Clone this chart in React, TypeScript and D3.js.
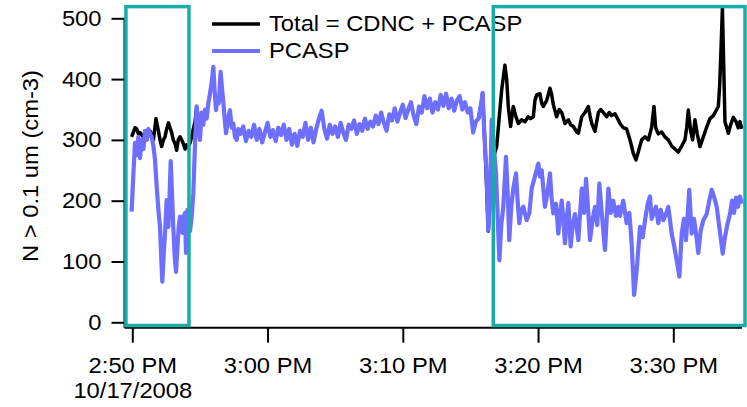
import { useRef, useEffect } from 'react'
import * as d3 from 'd3'

const W = 747
const H = 407

// minutes after 2:50 PM, 10/17/2008
const pcaspMinutes = [
  -0.05, 0.07, 0.2, 0.32, 0.45, 0.57, 0.69, 0.82, 0.94, 1.06, 1.19, 1.31, 1.43, 1.56, 1.68, 1.8, 1.93, 2.05,
  2.15, 2.22, 2.32, 2.42, 2.54, 2.67, 2.76, 2.84, 2.94, 3.03, 3.13, 3.23, 3.33, 3.43, 3.53, 3.63, 3.72, 3.82,
  3.9, 3.97, 4.07, 4.17, 4.27, 4.39, 4.51, 4.64, 4.76, 4.88, 5.0, 5.13, 5.25, 5.38, 5.5, 5.62, 5.75, 5.87,
  5.99, 6.09, 6.19, 6.28, 6.39, 6.53, 6.63, 6.73, 6.83, 6.93, 7.08, 7.22, 7.35, 7.47, 7.59, 7.72, 7.84, 8.0,
  8.2, 8.4, 8.6, 8.8, 9.0, 9.2, 9.4, 9.6, 9.8, 10.0, 10.2, 10.4, 10.6, 10.8, 11.0, 11.2, 11.4, 11.6, 11.8,
  12.0, 12.2, 12.4, 12.6, 12.8, 13.0, 13.2, 13.4, 13.6, 13.8, 14.0, 14.2, 14.4, 14.6, 14.8, 15.0, 15.2, 15.4,
  15.6, 15.8, 16.0, 16.2, 16.4, 16.6, 16.8, 17.0, 17.2, 17.4, 17.6, 17.8, 18.0, 18.2, 18.4, 18.6, 18.8, 19.0,
  19.2, 19.4, 19.6, 19.8, 20.0, 20.2, 20.4, 20.6, 20.8, 21.0, 21.2, 21.4, 21.6, 21.8, 22.0, 22.2, 22.4, 22.6,
  22.8, 23.0, 23.2, 23.4, 23.6, 23.8, 24.0, 24.2, 24.4, 24.6, 24.8, 25.0, 25.2, 25.4, 25.6, 25.8, 25.9,
  26.05, 26.2, 26.32, 26.45, 26.57, 26.69, 26.89, 27.14, 27.28, 27.43, 27.63, 27.78, 27.87, 28.02, 28.17,
  28.37, 28.49, 28.61, 28.76, 28.91, 29.16, 29.36, 29.53, 29.77, 30.02, 30.14, 30.27, 30.51, 30.71, 30.88,
  31.0, 31.13, 31.33, 31.5, 31.62, 31.75, 31.87, 31.99, 32.12, 32.24, 32.41, 32.56, 32.73, 32.98, 33.23,
  33.4, 33.55, 33.72, 33.84, 34.04, 34.21, 34.38, 34.53, 34.71, 34.95, 35.2, 35.37, 35.56, 35.76, 35.93,
  36.06, 36.3, 36.55, 36.75, 36.92, 37.1, 37.3, 37.54, 37.74, 37.91, 38.11, 38.28, 38.4, 38.52, 38.72,
  38.89, 39.07, 39.26, 39.46, 39.63, 39.88, 40.07, 40.25, 40.45, 40.62, 40.79, 40.94, 41.18, 41.36, 41.53,
  41.68, 41.85, 42.02, 42.22, 42.47, 42.66, 42.84, 43.03, 43.21, 43.38, 43.53, 43.65, 43.82, 43.99, 44.19,
  44.34, 44.49, 44.64, 44.78, 44.93, 45.06,
]
const pcaspValues = [
  182, 240, 295, 275, 305, 270, 300, 285, 315, 300, 318, 310, 305, 290, 267, 225, 185, 157,
  100, 67, 110, 147, 201, 157, 210, 265, 210, 157, 110, 83, 120, 157, 174, 150, 147, 175,
  180, 114, 185, 170, 150, 174, 212, 295, 355, 330, 300, 345, 325, 350, 335, 360, 377, 395,
  420, 380, 349, 370, 360, 412, 385, 362, 335, 311, 335, 349, 320, 327, 305, 300, 318, 310,
  322, 298, 315, 305, 325, 300, 318, 296, 312, 328, 305, 316, 298, 320, 308, 325, 300, 318, 292,
  310, 290, 315, 305, 328, 300, 320, 296, 318, 335, 348, 318, 302, 325, 310, 322, 305, 328,
  312, 300, 325, 318, 332, 310, 326, 315, 335, 318, 330, 322, 340, 326, 345, 328, 315, 342,
  332, 352, 330, 345, 358, 336, 350, 362, 340, 326, 355, 345, 372, 352, 368, 345, 362, 350,
  374, 356, 376, 352, 368, 348, 365, 372, 350, 362, 345, 352, 312, 330, 335, 360, 377,
  300, 245, 152, 200, 333, 300, 245, 102, 160, 190, 272, 200, 135, 190, 220,
  245, 200, 163, 185, 190, 168, 180, 220, 240, 261, 240, 250, 190, 215, 245,
  205, 179, 195, 146, 175, 200, 170, 130, 170, 196, 125, 160, 178, 135, 220,
  180, 236, 180, 135, 170, 190, 160, 228, 180, 119, 220, 180, 200, 175, 190,
  175, 200, 163, 180, 130, 45, 87, 157, 140, 168, 195, 207, 170, 178, 190,
  163, 185, 168, 178, 190, 146, 125, 102, 75, 146, 170, 135, 218, 146, 170,
  146, 114, 150, 168, 178, 200, 218, 205, 190, 160, 135, 113, 140, 160, 178,
  200, 180, 205, 190, 207, 195,
]

// Total = CDNC + PCASP, in the two cloud passes (elsewhere it lies under PCASP)
const totalMinutes1 = [
  -0.05, 0.07, 0.2, 0.32, 0.45, 0.57, 0.82, 1.06, 1.31, 1.56, 1.75, 1.93, 2.05, 2.17, 2.3, 2.42, 2.54,
  2.67, 2.79, 2.91, 3.03, 3.16, 3.28, 3.4, 3.53, 3.65, 3.77, 3.9, 4.02, 4.14, 4.27, 4.39, 4.51, 4.64, 4.76,
]
const totalValues1 = [
  305, 312, 320, 318, 310, 312, 305, 300, 315, 300, 335, 315, 300, 289, 300, 305, 318,
  328, 320, 312, 300, 294, 283, 300, 305, 300, 294, 285, 292, 288, 295, 305, 318, 330, 355,
]
const totalMinutes2 = [
  25.6, 25.8, 25.9, 26.15, 26.32, 26.5, 26.69, 26.94, 27.14, 27.31, 27.55, 27.68, 27.8, 27.97, 28.17, 28.34,
  28.54, 28.78, 29.03, 29.27, 29.45, 29.65, 29.77, 29.9, 30.14, 30.27, 30.39, 30.64, 30.88, 31.0, 31.13,
  31.37, 31.57, 31.75, 31.99, 32.24, 32.41, 32.61, 32.86, 32.98, 33.23, 33.47, 33.72, 33.84, 33.97, 34.21,
  34.46, 34.63, 34.83, 35.07, 35.27, 35.44, 35.69, 35.93, 36.06, 36.3, 36.55, 36.8, 37.04, 37.24, 37.41,
  37.66, 37.91, 38.16, 38.4, 38.57, 38.7, 38.89, 39.14, 39.38, 39.63, 39.88, 40.12, 40.37, 40.62, 40.86,
  40.99, 41.11, 41.28, 41.43, 41.6, 41.77, 41.97, 42.22, 42.47, 42.71, 42.96, 43.21, 43.33, 43.43, 43.53,
  43.63, 43.73, 43.82, 43.95, 44.07, 44.24, 44.44, 44.64, 44.8, 44.93, 45.06,
]
const totalValues2 = [
  335, 360, 377, 250, 150, 220, 270, 289, 340, 382, 423, 400, 355, 322, 355, 340,
  327, 333, 330, 338, 335, 338, 365, 374, 376, 360, 355, 365, 385, 375, 358,
  338, 350, 345, 327, 333, 325, 322, 313, 311, 338, 345, 355, 340, 327, 314,
  345, 350, 345, 338, 345, 340, 343, 333, 327, 320, 318, 300, 278, 267, 280,
  300, 305, 300, 321, 355, 320, 310, 313, 305, 300, 290, 285, 280, 290, 300,
  320, 349, 315, 300, 333, 310, 289, 305, 321, 335, 340, 350, 355, 390, 450,
  516, 420, 330, 320, 311, 325, 337, 330, 320, 330, 318,
]

// cloud boxes, minutes after 2:50 PM
const boxStarts = [-0.47, 26.69]
const boxEnds = [4.19, 45.7]

const yTicks = [0, 100, 200, 300, 400, 500]
const legendLabels = ['Total = CDNC + PCASP', 'PCASP']

const BLUE = '#6F6FFF'
const TEAL = '#17ADA8'
const FONT = 'Liberation Sans, Arial, sans-serif'
const FS = 22
const SX = 1.08 // the original lettering is a bit wider than Arial

const t0 = new Date(2008, 9, 17, 14, 50)
const toDate = (m: number) => new Date(t0.getTime() + m * 60000)

// widen text along its own direction, keeping its anchor point in place
function widen(sel: d3.Selection<any, any, any, any>) {
  sel.each(function () {
    const t = d3.select(this)
    const x = +(t.attr('x') || 0)
    t.attr('x', x / SX)
    const prev = t.attr('transform') || ''
    t.attr('transform', `${prev} scale(${SX},1)`)
  })
}

export default function App() {
  const svgRef = useRef<SVGSVGElement>(null)

  useEffect(() => {
    if (!svgRef.current) return
    const svg = d3.select(svgRef.current)
    svg.selectAll('*').remove()

    const x = d3.scaleTime()
      .domain([t0, new Date(2008, 9, 17, 15, 30)])
      .range([132.3, 673.3])
    const y = d3.scaleLinear().domain([0, 500]).range([322.3, 18.3])

    const axisY = 327.7
    const axisX = 124.5

    // Y axis
    const yAxis = d3.axisLeft(y).tickValues(yTicks).tickSize(13).tickPadding(10).tickFormat(d3.format('d'))
    const gy = svg.append('g').attr('transform', `translate(${axisX},0)`).call(yAxis)
    gy.select('.domain').remove()
    gy.append('line').attr('x1', 0).attr('x2', 0).attr('y1', y(500)).attr('y2', axisY).attr('stroke', '#000').attr('stroke-width', 2)
    gy.selectAll('.tick line').attr('stroke', '#000').attr('stroke-width', 2)
    gy.selectAll('.tick text').attr('fill', '#000').attr('font-size', FS).attr('font-family', FONT)
    widen(gy.selectAll('.tick text'))

    // X axis
    const xAxis = d3.axisBottom(x)
      .ticks(d3.timeMinute.every(10))
      .tickSize(15)
      .tickPadding(15)
      .tickFormat((d) => d3.timeFormat('%-I:%M %p')(d as Date))
    const gx = svg.append('g').attr('transform', `translate(0,${axisY})`).call(xAxis)
    gx.select('.domain').remove()
    gx.append('line').attr('x1', axisX).attr('x2', 742).attr('y1', 0).attr('y2', 0).attr('stroke', '#000').attr('stroke-width', 2)
    gx.selectAll('.tick line').attr('stroke', '#000').attr('stroke-width', 2)
    gx.selectAll('.tick text').attr('fill', '#000').attr('font-size', FS).attr('font-family', FONT)
    gx.selectAll<SVGGElement, Date>('.tick')
      .filter((d) => d.getTime() === t0.getTime())
      .append('text')
      .attr('y', 30 + 25)
      .attr('dy', '0.71em')
      .attr('text-anchor', 'middle')
      .attr('fill', '#000')
      .attr('font-size', FS)
      .attr('font-family', FONT)
      .text(d3.timeFormat('%m/%d/%Y')(t0))
    widen(gx.selectAll('.tick text'))

    // Y label
    svg.append('text')
      .attr('transform', `translate(38,166) rotate(-90) scale(${SX},1)`)
      .attr('text-anchor', 'middle')
      .attr('font-size', FS)
      .attr('font-family', FONT)
      .attr('fill', '#000')
      .text('N > 0.1 um (cm-3)')

    const line = d3.line<[number, number]>()
      .x((d) => x(toDate(d[0])))
      .y((d) => y(d[1]))

    const total1 = totalMinutes1.map((m, i) => [m, totalValues1[i]] as [number, number])
    const total2 = totalMinutes2.map((m, i) => [m, totalValues2[i]] as [number, number])
    const pcasp = pcaspMinutes.map((m, i) => [m, pcaspValues[i]] as [number, number])

    ;[total1, total2].forEach((seg) => {
      svg.append('path').attr('d', line(seg)).attr('fill', 'none')
        .attr('stroke', '#000').attr('stroke-width', 3.5).attr('stroke-linejoin', 'round')
    })
    svg.append('path').attr('d', line(pcasp)).attr('fill', 'none')
      .attr('stroke', BLUE).attr('stroke-width', 4.2).attr('stroke-linejoin', 'round')

    // Legend
    const legendColors = ['#000', BLUE]
    legendLabels.forEach((label, i) => {
      const ly = 24 + i * 27
      svg.append('line').attr('x1', 212).attr('x2', 260).attr('y1', ly).attr('y2', ly)
        .attr('stroke', legendColors[i]).attr('stroke-width', i === 0 ? 3.5 : 4)
      svg.append('text').attr('x', 269).attr('y', ly + 7)
        .attr('font-size', FS).attr('font-family', FONT).attr('fill', '#000')
        .text(label)
    })
    widen(svg.selectAll(':scope > text:not([transform])'))

    // Cloud boxes
    boxStarts.forEach((s, i) => {
      const x0 = x(toDate(s))
      const x1 = Math.min(x(toDate(boxEnds[i])), 745)
      svg.append('rect')
        .attr('x', x0).attr('y', 6.6)
        .attr('width', x1 - x0).attr('height', 325.5 - 6.6)
        .attr('fill', 'none').attr('stroke', TEAL).attr('stroke-width', 3.5)
    })
  }, [])

  return (
    <div style={{ position: 'fixed', left: 0, top: 0, width: W, height: H, background: '#fff' }}>
      <svg ref={svgRef} width={W} height={H} style={{ display: 'block' }} />
    </div>
  )
}
